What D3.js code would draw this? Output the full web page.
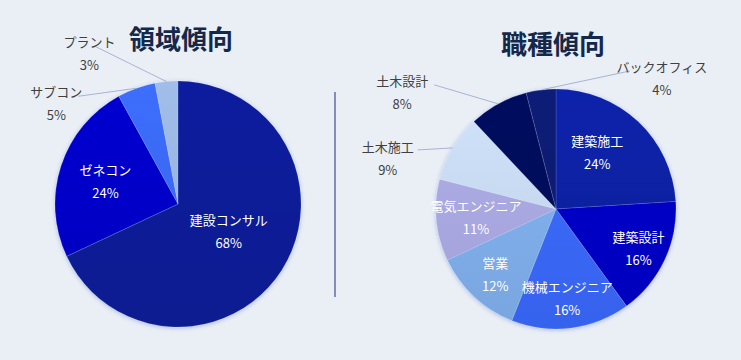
<!DOCTYPE html>
<html><head><meta charset="utf-8">
<script src="https://cdn.jsdelivr.net/npm/d3@7"></script>
<style>
html,body{margin:0;padding:0;background:#eaeff5;}
svg{display:block;font-family:"Noto Sans CJK JP","Noto Sans",sans-serif;}
</style></head>
<body><svg id="c" width="741" height="360"></svg>
<script>
// ---- data ----
const leftTitle = "領域傾向";
const leftCategories = ["建設コンサル","ゼネコン","サブコン","プラント"];
const leftValues = [68,24,5,3];
const rightTitle = "職種傾向";
const rightCategories = ["建築施工","建築設計","機械エンジニア","営業","電気エンジニア","土木施工","土木設計","バックオフィス"];
const rightValues = [24,16,16,12,11,9,8,4];

// ---- styling / layout ----
const leftColors = ["#081e98","#0404c9","#3a6af4","#9bb6e2"];
const rightColors = ["#0a20a4","#0000c6","#3968fa","#80afeb","#aaa9e2","#c9dbf2","#040f5c","#0e1a72"];
const outside = {
  "サブコン": {name:[-80,3], lead:[-58,8]},
  "プラント": {name:[-77,-40], lead:[-71,-35]},
  "土木施工": {name:[-65,-1], lead:[-35,2]},
  "土木設計": {name:[-96,-23], lead:[-64,-19]},
  "バックオフィス": {name:[121,-23], lead:[89,-19]}
};
// inside-label radius factor and nudge
const inside = {
  "建設コンサル": {r:0.47, d:[2,-4]},
  "ゼネコン": {r:0.62, d:[0,0]},
  "建築施工": {r:0.66, d:[-13,0]},
  "建築設計": {r:0.76, d:[0,0]},
  "機械エンジニア": {r:0.74, d:[0,0]},
  "営業": {r:0.74, d:[0,0]},
  "電気エンジニア": {r:0.67, d:[0,0]}
};

const svg = d3.select("#c");
const defs = svg.append("defs");
const f = defs.append("filter").attr("id","sh").attr("x","-20%").attr("y","-20%").attr("width","140%").attr("height","140%");
f.append("feDropShadow").attr("dx",0).attr("dy",1).attr("stdDeviation",2).attr("flood-color","#2a4cc8").attr("flood-opacity",0.35);

function drawPie(id, cats, vals, colors, cx, cy, R, title, tx, ty){
  const data = cats.map((c,i)=>({name:c, value:vals[i], color:colors[i]}));
  data.forEach((d,i)=>{
    const lg = defs.append("linearGradient").attr("id",`${id}g${i}`)
      .attr("gradientUnits","userSpaceOnUse").attr("x1",0).attr("x2",0).attr("y1",-R).attr("y2",R);
    lg.append("stop").attr("offset",0).attr("stop-color",d3.color(d.color).brighter(0.1));
    lg.append("stop").attr("offset",1).attr("stop-color",d3.color(d.color).darker(0.15));
    d.fill = `url(#${id}g${i})`;
  });
  const pie = d3.pie().sort(null).value(d=>d.value);
  const arcs = pie(data);
  const arc = d3.arc().innerRadius(0).outerRadius(R);
  const g = svg.append("g").attr("transform",`translate(${cx},${cy})`);
  g.append("g").attr("filter","url(#sh)").selectAll("path").data(arcs).join("path")
    .attr("d",arc).attr("fill",d=>d.data.fill)
    .attr("stroke","rgba(255,255,255,0.22)").attr("stroke-width",0.6);
  const edge = d3.arc().innerRadius(R).outerRadius(R);
  arcs.forEach(a=>{
    const o = outside[a.data.name];
    const pct = a.data.value + "%";
    if(o){
      const [ex,ey] = edge.centroid(a);
      g.append("line").attr("x1",ex).attr("y1",ey)
        .attr("x2",ex+o.lead[0]).attr("y2",ey+o.lead[1])
        .attr("stroke","#a9b3d6").attr("stroke-width",1);
      const nx = ex+o.name[0], ny = ey+o.name[1];
      g.append("text").attr("x",nx).attr("y",ny).attr("text-anchor","middle").attr("dominant-baseline","central")
        .attr("font-size",13).attr("fill","#404040").text(a.data.name);
      g.append("text").attr("x",nx).attr("y",ny+23).attr("text-anchor","middle").attr("dominant-baseline","central")
        .attr("font-size",13).attr("fill","#404040").text(pct);
    } else {
      const p = inside[a.data.name] || {r:0.6, d:[0,0]};
      const lab = d3.arc().innerRadius(R*p.r).outerRadius(R*p.r);
      let [lx,ly] = lab.centroid(a);
      lx += p.d[0]; ly += p.d[1];
      g.append("text").attr("x",lx).attr("y",ly-11).attr("text-anchor","middle").attr("dominant-baseline","central")
        .attr("font-size",13).attr("fill","#ffffff").text(a.data.name);
      g.append("text").attr("x",lx).attr("y",ly+12).attr("text-anchor","middle").attr("dominant-baseline","central")
        .attr("font-size",13).attr("fill","#ffffff").text(pct);
    }
  });
  svg.append("text").attr("x",tx).attr("y",ty).attr("text-anchor","middle").attr("dominant-baseline","central")
    .attr("font-size",26).attr("font-weight","bold").attr("fill","#14284b").text(title);
}

drawPie("L", leftCategories, leftValues, leftColors, 178, 204, 123, leftTitle, 181, 37);
drawPie("R", rightCategories, rightValues, rightColors, 556, 209, 120, rightTitle, 553, 42);

svg.append("line").attr("x1",335).attr("x2",335).attr("y1",92).attr("y2",297)
  .attr("stroke","#1c2c7e").attr("stroke-width",1);
</script>
</body></html>
